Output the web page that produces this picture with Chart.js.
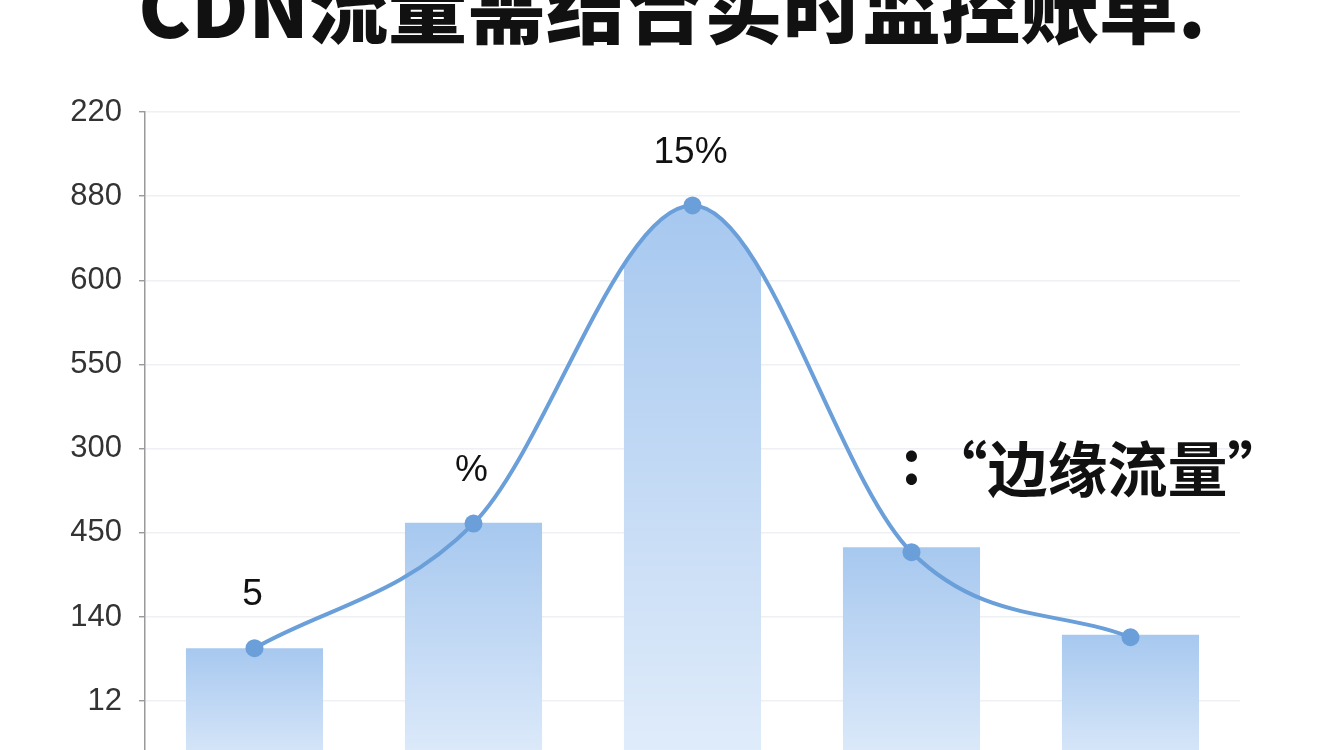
<!DOCTYPE html>
<html>
<head>
<meta charset="utf-8">
<script src="https://cdn.jsdelivr.net/npm/chart.js@4.4.1/dist/chart.umd.min.js"></script>
<style>
  html, body { margin: 0; padding: 0; background: #fff; overflow: hidden; }
  #wrap { position: relative; width: 1344px; height: 821px; }
</style>
</head>
<body>
<div id="wrap"><canvas id="chart"></canvas></div>
<script>
// chart values
const titleText = "CDN流量需结合实时监控账单.";
const categories = ["1", "2", "3", "4", "5"];
const barValues = [1.63, 3.12, 6.85, 2.83, 1.79];
const lineValues = [1.63, 3.11, 6.89, 2.77, 1.76];
const pointLabels = ["5", "%", "15%", "", ""];
const yTickLabels = ["", "12", "140", "450", "300", "550", "600", "880", "220"];
const noteText = "“边缘流量”";
const noteIndex = 3;

const blue = "#6a9fd9";
const peakIndex = barValues.indexOf(Math.max(...barValues));

// bar fill fades from the bar top down to the base
function barFill(context) {
    const chart = context.chart;
    const area = chart.chartArea;
    if (!area || context.raw == null) return "#b8d3f3";
    const top = chart.scales.y.getPixelForValue(context.raw);
    const g = chart.ctx.createLinearGradient(0, top, 0, area.bottom);
    g.addColorStop(0, "#a7c8ef");
    g.addColorStop(1, "#e3eefb");
    return g;
}

// peak bar is cut off along the curve
const clipPeak = {
    id: "clipPeak",
    beforeDatasetDraw(chart, args) {
        if (args.index !== 2) return;
        const ctx = chart.ctx;
        const line = chart.getDatasetMeta(0);
        const pts = line.data;
        ctx.save();
        ctx.beginPath();
        line.dataset.path(ctx);
        ctx.lineTo(pts[pts.length - 1].x, chart.chartArea.bottom);
        ctx.lineTo(pts[0].x, chart.chartArea.bottom);
        ctx.closePath();
        ctx.clip();
    },
    afterDatasetDraw(chart, args) {
        if (args.index !== 2) return;
        chart.ctx.restore();
    }
};

// title, point labels and the side note
const texts = {
    id: "texts",
    afterDraw(chart) {
        const ctx = chart.ctx;
        const pts = chart.getDatasetMeta(0).data;
        ctx.save();
        ctx.fillStyle = "#111";
        ctx.textAlign = "center";
        ctx.textBaseline = "middle";
        ctx.font = "37px 'Liberation Sans', Arial, sans-serif";
        pointLabels.forEach((t, i) => {
            if (t) ctx.fillText(t, pts[i].x - 2, pts[i].y - 53);
        });

        ctx.textBaseline = "alphabetic";
        ctx.font = "900 79px 'Noto Sans CJK SC', sans-serif";
        ctx.fillText(titleText, 672, 38);

        const p = pts[noteIndex];
        ctx.font = "bold 60px 'Noto Sans CJK SC', sans-serif";
        ctx.fillText(":", p.x, p.y - 68);
        ctx.textAlign = "left";
        ctx.fillText(noteText, p.x + 16, p.y - 60);
        ctx.restore();
    }
};

new Chart("chart", {
    data: {
        labels: categories,
        datasets: [{
            type: "line",
            data: lineValues,
            borderColor: blue,
            borderWidth: 4,
            backgroundColor: blue,
            pointRadius: 9,
            pointBorderWidth: 0,
            cubicInterpolationMode: "monotone",
            fill: false,
            order: 0
        }, {
            type: "bar",
            data: barValues.map((v, i) => i === peakIndex ? null : v),
            backgroundColor: barFill,
            grouped: false,
            categoryPercentage: 1,
            barPercentage: 0.626,
            order: 2
        }, {
            type: "bar",
            data: barValues.map((v, i) => i === peakIndex ? v : null),
            backgroundColor: barFill,
            grouped: false,
            categoryPercentage: 1,
            barPercentage: 0.626,
            order: 1
        }]
    },
    options: {
        responsive: true,
        maintainAspectRatio: false,
        animation: false,
        layout: {padding: {top: 112, right: 104, bottom: 16, left: 0}},
        plugins: {
            legend: {display: false},
            tooltip: {enabled: false}
        },
        scales: {
            x: {display: false},
            y: {
                min: 0,
                max: 8,
                afterFit: (scale) => { scale.width = 145; },
                ticks: {
                    stepSize: 1,
                    padding: 17,
                    color: "#333",
                    font: {family: "'Liberation Sans', Arial, sans-serif", size: 31},
                    callback: (v) => yTickLabels[v]
                },
                grid: {
                    color: "#eef0f3",
                    lineWidth: 1.5,
                    tickLength: 6,
                    tickColor: "#888",
                    tickWidth: 1.2
                },
                border: {color: "#9a9a9a", width: 1.5}
            }
        }
    },
    plugins: [clipPeak, texts]
});
</script>
</body>
</html>
